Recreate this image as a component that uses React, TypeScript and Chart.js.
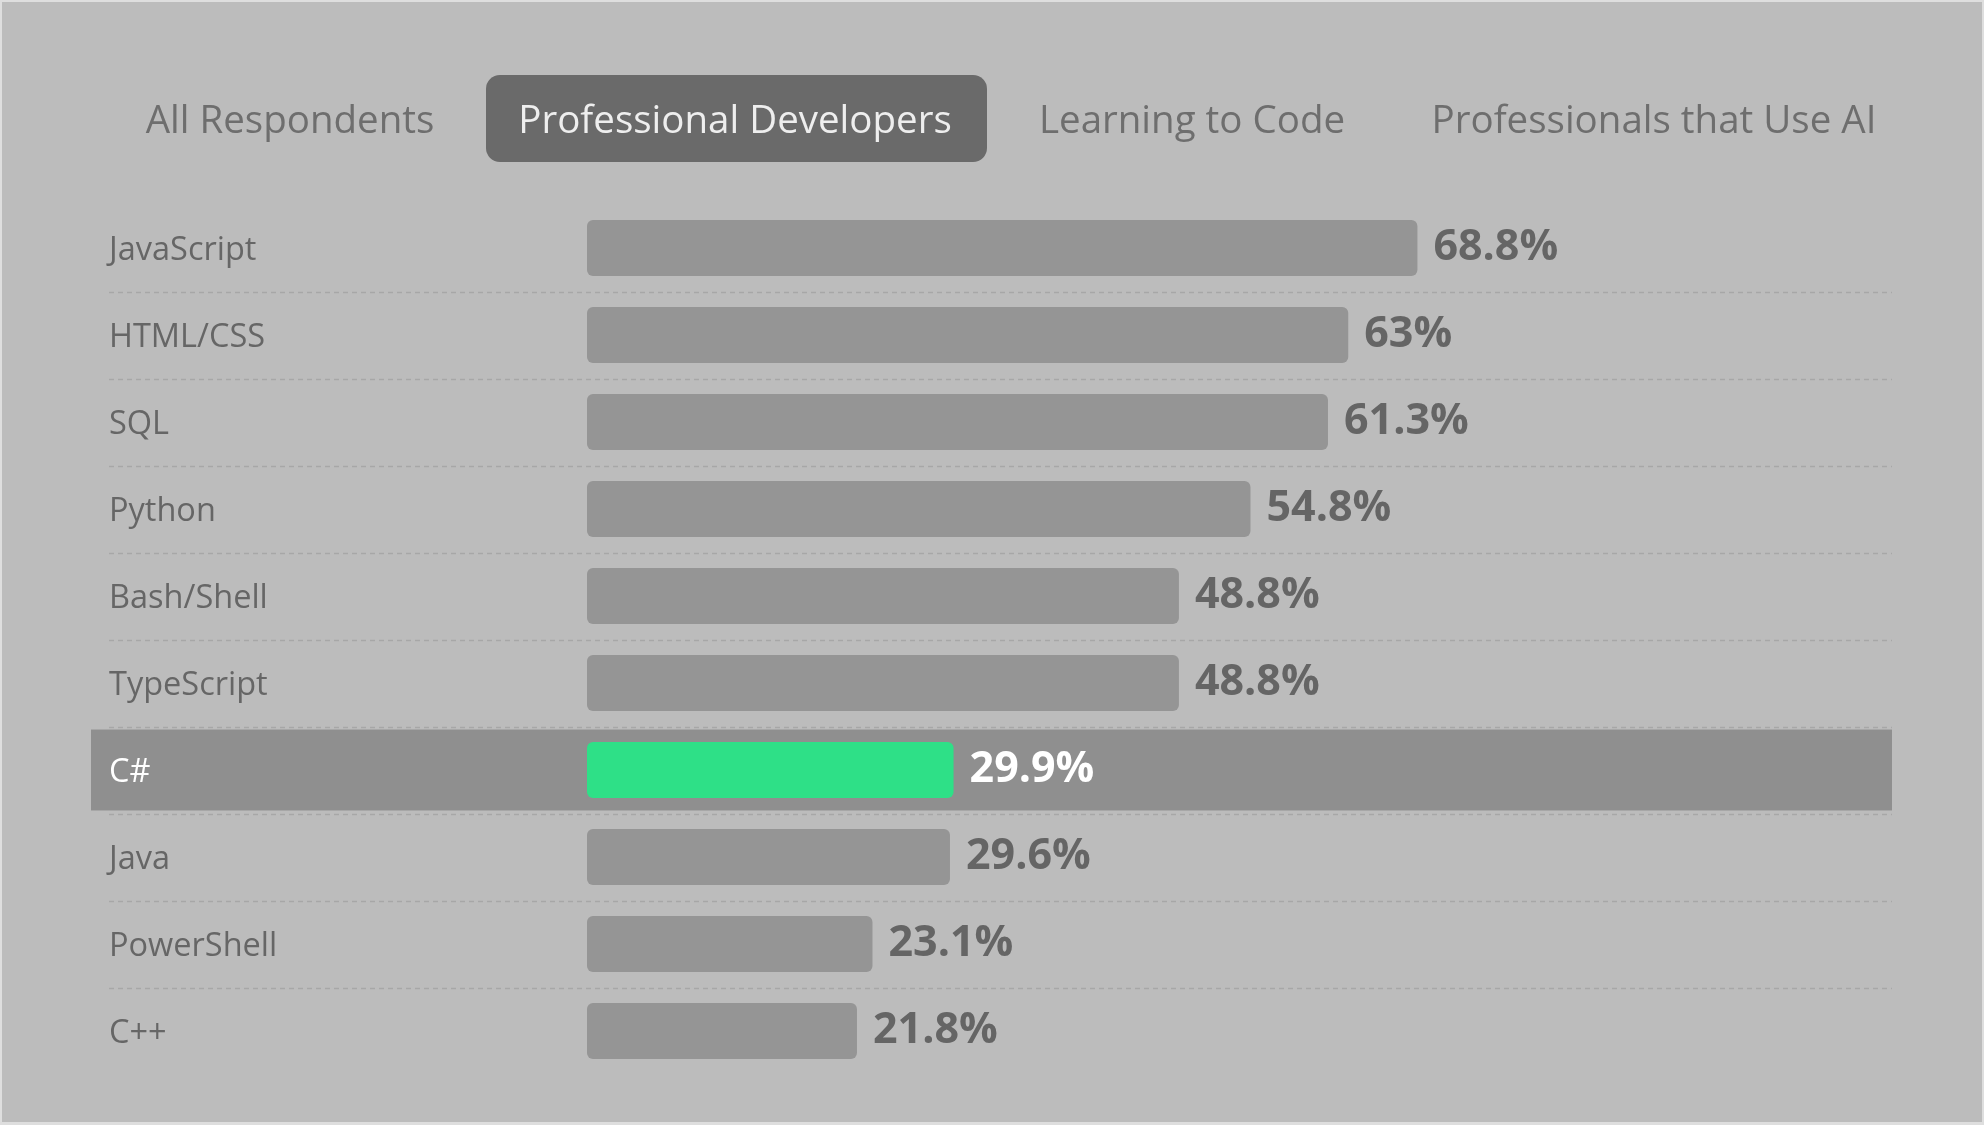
import React, { useEffect, useRef } from "react";
import { Chart, registerables } from "chart.js";

Chart.register(...registerables);

const tabs = ["All Respondents", "Professional Developers", "Learning to Code", "Professionals that Use AI"];
const activeTab = 1;
const categories = ["JavaScript", "HTML/CSS", "SQL", "Python", "Bash/Shell", "TypeScript", "C#", "Java", "PowerShell", "C++"];
const values = [68.8, 63, 61.3, 54.8, 48.8, 48.8, 29.9, 29.6, 23.1, 21.8];
const valueLabels = ["68.8%", "63%", "61.3%", "54.8%", "48.8%", "48.8%", "29.9%", "29.6%", "23.1%", "21.8%"];
const highlighted = "C#";
const axisMin = -0.84;
const axisMax = 108.6;

const W = 1984;
const H = 1125;
const FONT = '"Open Sans", "Noto Sans", sans-serif';

export default function App() {
  const ref = useRef<HTMLCanvasElement | null>(null);

  useEffect(() => {
    document.body.style.margin = "0";
    const canvas = ref.current;
    if (!canvas) return;
    const hiIndex = categories.indexOf(highlighted);

    const decor = {
      id: "decor",
      beforeDraw(chart: any) {
        const ctx = chart.ctx;
        ctx.save();
        ctx.fillStyle = "#dedede";
        ctx.fillRect(0, 0, W, H);
        ctx.fillStyle = "#bcbcbc";
        ctx.fillRect(2, 2, W - 4, H - 5);
        ctx.restore();
      },
      beforeDatasetsDraw(chart: any) {
        const ctx = chart.ctx;
        const y = chart.scales.y;
        const area = chart.chartArea;
        const step = y.getPixelForValue(1) - y.getPixelForValue(0);
        ctx.save();
        ctx.strokeStyle = "#a7a7a7";
        ctx.lineWidth = 1.5;
        ctx.setLineDash([5, 4]);
        for (let i = 0; i < categories.length - 1; i++) {
          const yy = Math.round((y.getPixelForValue(i) + y.getPixelForValue(i + 1)) / 2) + 0.5;
          ctx.beginPath();
          ctx.moveTo(109, yy);
          ctx.lineTo(area.right, yy);
          ctx.stroke();
        }
        ctx.setLineDash([]);
        if (hiIndex >= 0) {
          const cy = y.getPixelForValue(hiIndex);
          const bh = step * 0.93;
          ctx.fillStyle = "#8f8f8f";
          ctx.fillRect(91, cy - bh / 2, area.right - 91, bh);
        }
        ctx.restore();
      },
      afterDatasetsDraw(chart: any) {
        const ctx = chart.ctx;
        const y = chart.scales.y;
        const meta = chart.getDatasetMeta(0);
        ctx.save();
        ctx.textBaseline = "middle";
        categories.forEach((c, i) => {
          const cy = y.getPixelForValue(i);
          const hi = i === hiIndex;
          ctx.fillStyle = hi ? "#ffffff" : "#666666";
          ctx.font = `400 32.5px ${FONT}`;
          ctx.textAlign = "left";
          ctx.fillText(c, 109, cy + 3);
          const bar = meta.data[i];
          ctx.font = `700 43px ${FONT}`;
          ctx.fillStyle = hi ? "#ffffff" : "#656565";
          ctx.fillText(valueLabels[i], bar.x + 16, cy);
        });
        ctx.restore();
      },
      afterDraw(chart: any) {
        const ctx = chart.ctx;
        ctx.save();
        const centers = [290, 735, 1192, 1654];
        const ty = 122;
        const bx = 486, by = 75, bw = 501, bh = 87, r = 14;
        ctx.fillStyle = "#6a6a6a";
        ctx.beginPath();
        ctx.roundRect(bx, by, bw, bh, r);
        ctx.fill();
        ctx.textAlign = "center";
        ctx.textBaseline = "middle";
        ctx.font = `400 38.5px ${FONT}`;
        tabs.forEach((t, i) => {
          ctx.fillStyle = i === activeTab ? "#eeeeee" : "#6e6e6e";
          ctx.fillText(t, centers[i], ty);
        });
        ctx.restore();
      },
    };

    const chart = new Chart(canvas, {
      type: "bar",
      data: {
        labels: categories,
        datasets: [
          {
            data: values,
            base: axisMin,
            backgroundColor: categories.map((c) => (c === highlighted ? "#2ee087" : "#959595")),
            borderRadius: 6,
            borderSkipped: false,
            barPercentage: 0.644,
            categoryPercentage: 1,
          },
        ],
      },
      options: {
        indexAxis: "y",
        animation: false,
        responsive: false,
        devicePixelRatio: 1,
        layout: { padding: { left: 587, right: 92, top: 204.5, bottom: 50.5 } },
        plugins: { legend: { display: false }, tooltip: { enabled: false } },
        scales: {
          x: { min: axisMin, max: axisMax, display: false },
          y: { display: false },
        },
      },
      plugins: [decor],
    });
    return () => chart.destroy();
  }, []);

  return (
    <div style={{ width: W, height: H }}>
      <canvas ref={ref} width={W} height={H} style={{ display: "block", width: W, height: H }} />
    </div>
  );
}
